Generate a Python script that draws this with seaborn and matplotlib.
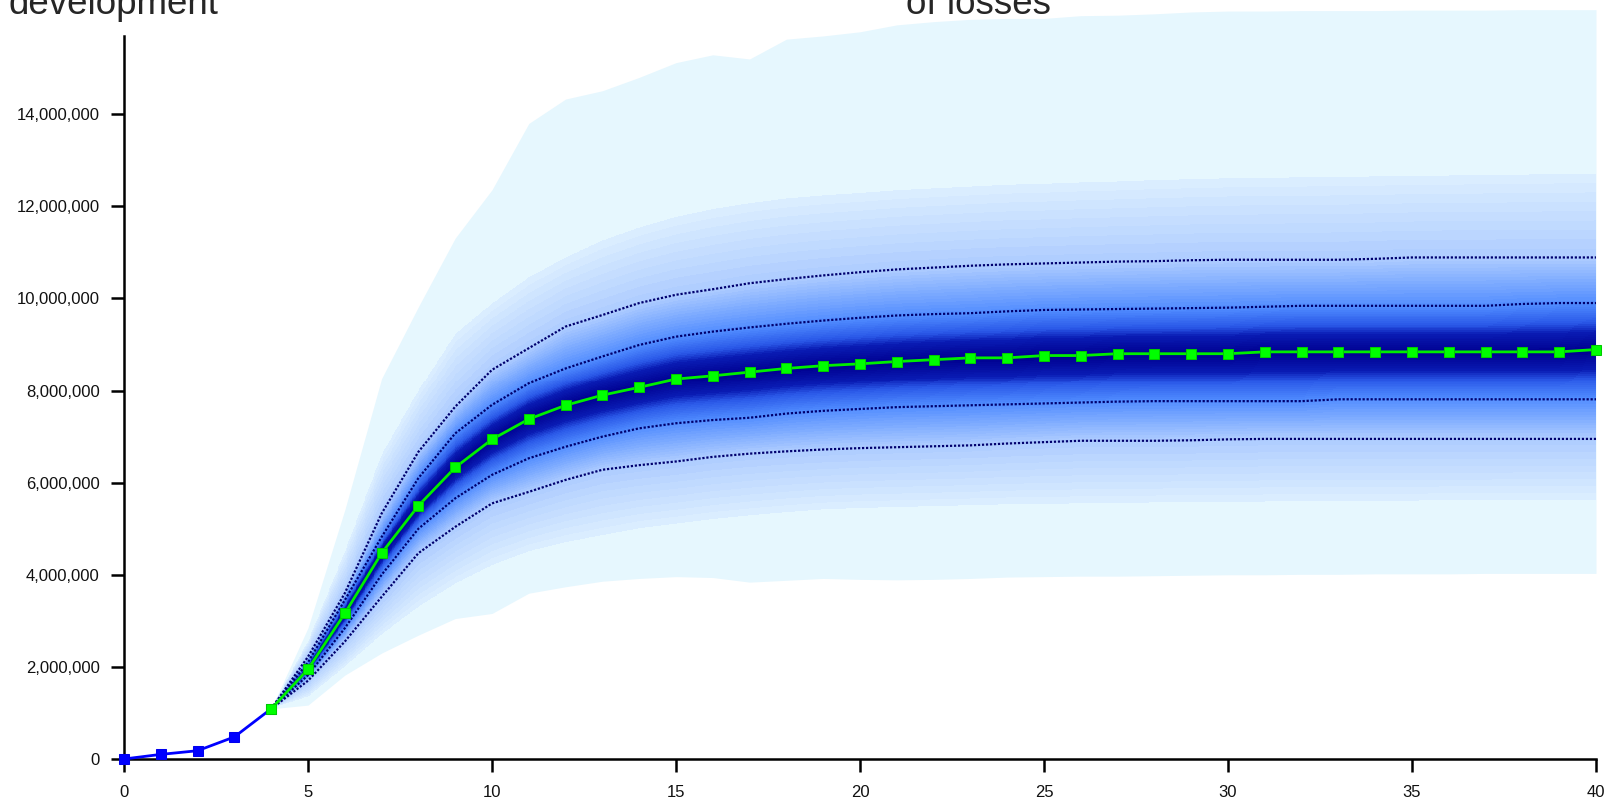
import numpy as np
import matplotlib
matplotlib.use('Agg')
import matplotlib.pyplot as plt
import seaborn as sns
from matplotlib.colors import LinearSegmentedColormap
from matplotlib.ticker import FuncFormatter

# observed cumulative losses (millions)
hist_x = [0, 1, 2, 3, 4]
hist_y = [0.0, 0.10, 0.18, 0.48, 1.09]

# simulated development periods 4..40, quantiles read off the fan (millions)
dev_x = list(range(4, 41))
q_min = [1.09, 1.17, 1.82, 2.30, 2.69, 3.05, 3.16, 3.60, 3.74, 3.86, 3.92, 3.96, 3.94, 3.84,
         3.88, 3.92, 3.90, 3.89, 3.90, 3.92, 3.95, 3.96, 3.97, 3.97, 3.98, 3.99, 4.00, 4.00,
         4.01, 4.01, 4.02, 4.02, 4.02, 4.03, 4.03, 4.03, 4.03]
q01 = [1.09, 1.35, 2.00, 2.70, 3.30, 3.80, 4.20, 4.50, 4.70, 4.85, 5.00, 5.10, 5.20, 5.28,
       5.35, 5.41, 5.44, 5.46, 5.48, 5.50, 5.52, 5.53, 5.54, 5.55, 5.56, 5.57, 5.58, 5.58,
       5.59, 5.59, 5.60, 5.60, 5.61, 5.61, 5.62, 5.62, 5.62]
q10 = [1.09, 1.70, 2.55, 3.52, 4.47, 5.04, 5.55, 5.80, 6.06, 6.28, 6.38, 6.46, 6.56, 6.63,
       6.68, 6.72, 6.75, 6.77, 6.79, 6.81, 6.85, 6.88, 6.91, 6.91, 6.91, 6.92, 6.94, 6.95,
       6.95, 6.95, 6.95, 6.95, 6.95, 6.95, 6.95, 6.95, 6.95]
q25 = [1.09, 1.82, 2.84, 4.00, 5.00, 5.66, 6.17, 6.53, 6.78, 7.00, 7.18, 7.29, 7.36, 7.41,
       7.50, 7.56, 7.60, 7.64, 7.66, 7.68, 7.70, 7.72, 7.74, 7.76, 7.77, 7.77, 7.77, 7.77,
       7.77, 7.81, 7.81, 7.81, 7.81, 7.81, 7.81, 7.81, 7.81]
q50 = [1.09, 1.95, 3.16, 4.47, 5.50, 6.33, 6.94, 7.38, 7.68, 7.90, 8.07, 8.25, 8.32, 8.40,
       8.48, 8.54, 8.58, 8.63, 8.67, 8.71, 8.71, 8.76, 8.76, 8.80, 8.80, 8.80, 8.80, 8.84,
       8.84, 8.84, 8.84, 8.84, 8.84, 8.84, 8.84, 8.84, 8.89]
q75 = [1.09, 2.10, 3.45, 4.82, 6.10, 7.07, 7.69, 8.16, 8.48, 8.74, 8.99, 9.17, 9.28, 9.37,
       9.45, 9.52, 9.58, 9.63, 9.66, 9.68, 9.72, 9.75, 9.76, 9.77, 9.78, 9.79, 9.80, 9.82,
       9.84, 9.84, 9.84, 9.84, 9.84, 9.84, 9.88, 9.90, 9.90]
q90 = [1.09, 2.22, 3.60, 5.33, 6.67, 7.65, 8.45, 8.92, 9.39, 9.64, 9.90, 10.08, 10.20, 10.33,
       10.42, 10.50, 10.57, 10.63, 10.67, 10.71, 10.74, 10.76, 10.78, 10.80, 10.81, 10.83,
       10.84, 10.84, 10.84, 10.84, 10.86, 10.89, 10.89, 10.89, 10.89, 10.89, 10.89]
q99 = [1.09, 2.55, 4.50, 6.60, 8.00, 9.24, 9.90, 10.47, 10.90, 11.27, 11.55, 11.78, 11.95,
       12.08, 12.18, 12.25, 12.30, 12.36, 12.40, 12.44, 12.48, 12.50, 12.53, 12.55, 12.58,
       12.60, 12.62, 12.63, 12.64, 12.65, 12.66, 12.67, 12.68, 12.69, 12.70, 12.71, 12.72]
q_max = [1.09, 2.85, 5.41, 8.26, 9.82, 11.31, 12.36, 13.80, 14.33, 14.51, 14.80, 15.12, 15.29,
         15.20, 15.63, 15.70, 15.79, 15.94, 16.01, 16.06, 16.08, 16.08, 16.14, 16.15, 16.18,
         16.22, 16.24, 16.24, 16.25, 16.25, 16.25, 16.26, 16.26, 16.26, 16.27, 16.27, 16.27]
fan_levels = [0.01, 0.10, 0.25, 0.50, 0.75, 0.90, 0.99]

M = 1e6
x_ticks = [0, 5, 10, 15, 20, 25, 30, 35, 40]
y_ticks = [0, 2, 4, 6, 8, 10, 12, 14]

sns.set_style('ticks')
plt.rcParams['font.family'] = ['Liberation Sans', 'DejaVu Sans']

fig = plt.figure(figsize=(16.04, 8.0), dpi=100)
ax = fig.add_axes([124 / 1604, 1 - 759 / 800, 1472 / 1604, 759 / 800])
y_top = 16.48 * M

dx = np.array(dev_x, dtype=float)
# outer min-max envelope
ax.fill_between(dx, np.array(q_min) * M, np.array(q_max) * M, color='#e6f7fe', lw=0, zorder=1)

# shaded fan: colour each pixel by the 1% quantile band it falls in
cmap = LinearSegmentedColormap.from_list(
    'fan', [(0.0, '#000090'), (0.2, '#0a1cb4'), (0.3, '#2a58e8'), (0.5, '#4f8bff'),
            (0.8, '#a9c9ff'), (1.0, '#dcefff')])
xs = np.linspace(4, 40, 1473)
ys = np.linspace(0, y_top, 760)
Q = np.array([np.interp(xs, dx, np.array(q) * M) for q in (q01, q10, q25, q50, q75, q90, q99)])
rgba = np.zeros((len(ys), len(xs), 4))
for j in range(len(xs)):
    qc = Q[:, j]
    if qc[-1] - qc[0] < 1:
        continue
    p = np.interp(ys, qc, fan_levels, left=np.nan, right=np.nan)
    ok = ~np.isnan(p)
    band = np.clip(np.floor(p[ok] * 100), 1, 98)
    d = np.abs((band + 0.5) / 100 - 0.5) / 0.49
    rgba[ok, j] = cmap(d)
ax.imshow(rgba, extent=[4, 40, 0, y_top], origin='lower', aspect='auto',
          interpolation='nearest', zorder=2)

# dotted quantile lines
for q in (q10, q25, q75, q90):
    ax.plot(dx, np.array(q) * M, color='#00006e', lw=1.6, ls=(0, (1, 0.8)), zorder=3)

# observed history and median projection
sns.lineplot(x=hist_x, y=np.array(hist_y) * M, ax=ax, color='#0000ff', lw=2,
             marker='s', markersize=7.5, markeredgecolor='#0000ee', clip_on=False, zorder=4)
sns.lineplot(x=dev_x, y=np.array(q50) * M, ax=ax, color='#00ee00', lw=2,
             marker='s', markersize=7.5, markerfacecolor='#00ff00',
             markeredgecolor='#00cc00', clip_on=False, zorder=5)

ax.set_xlim(0, 40)
ax.set_ylim(0, y_top)
ax.set_xticks(x_ticks)
ax.set_yticks([v * M for v in y_ticks])
ax.yaxis.set_major_formatter(FuncFormatter(lambda v, _: f'{v:,.0f}'))
ax.spines['left'].set_bounds(0, 15.7 * M)
sns.despine(ax=ax)
for s in ('left', 'bottom'):
    ax.spines[s].set_linewidth(1.8)
    ax.spines[s].set_color('black')
ax.tick_params(axis='both', direction='out', length=9.5, width=1.8, color='black',
               labelsize=12, labelcolor='#111111')
ax.tick_params(axis='y', pad=8)
ax.tick_params(axis='x', pad=9)
ax.set_xlabel('')
ax.set_ylabel('')

# clipped title fragments at the very top
fig.text(8 / 1604, 1 - 13.5 / 800, 'development', ha='left', va='baseline', fontsize=26.5)
fig.text(906 / 1604, 1 - 13.5 / 800, 'of losses', ha='left', va='baseline', fontsize=26.5)

fig.savefig('out.png', dpi=100)
